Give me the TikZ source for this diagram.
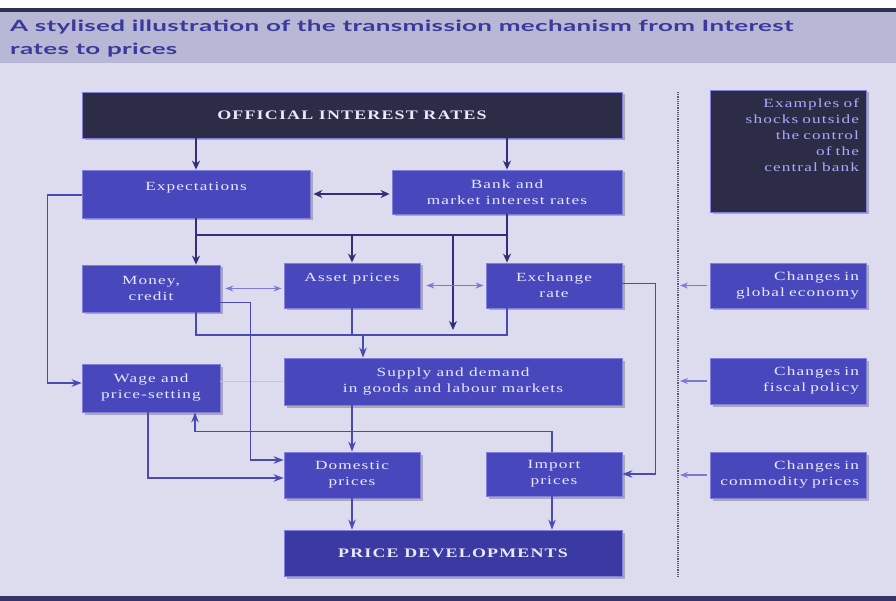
\documentclass[tikz,border=0pt]{standalone}
\usepackage{fontspec}
\setmainfont{Liberation Serif}[FakeStretch=1.38,LetterSpace=9]
\newfontfamily\titlefont{Lato}[FakeStretch=1.68,LetterSpace=2]
\usetikzlibrary{arrows.meta,shadows}

\definecolor{pagebg}{HTML}{DCDCEE}
\definecolor{bandbg}{HTML}{B8B8D6}
\definecolor{rulecol}{HTML}{2E2E50}
\definecolor{titlecol}{HTML}{3A3A9C}
\definecolor{boxblue}{HTML}{4848BC}
\definecolor{boxdark}{HTML}{2C2C46}
\definecolor{boxdeep}{HTML}{3A3AA2}
\definecolor{boxedge}{HTML}{8080DC}
\definecolor{boxtext}{HTML}{E8E8FF}
\definecolor{shocktext}{HTML}{A8AAFF}
\definecolor{arrdark}{HTML}{30307A}
\definecolor{arrmid}{HTML}{4A4AB4}
\definecolor{arrlight}{HTML}{7A7AD6}

\begin{document}
\begin{tikzpicture}[
  x=1pt, y=-1pt,
  font=\fontsize{12.5}{16}\selectfont,
  box/.style={draw=boxedge, line width=0.8pt, fill=boxblue, text=boxtext, align=center,
    minimum width=136pt, minimum height=46pt, inner sep=2pt,
    drop shadow={shadow xshift=2.5pt, shadow yshift=-2.5pt, opacity=0.35, fill=black!70}},
  darkbox/.style={box, fill=boxdark, font=\fontsize{13}{16}\selectfont\bfseries},
  deepbox/.style={box, fill=boxdeep, font=\fontsize{13}{16}\selectfont\bfseries},
  shockbox/.style={box, minimum width=156pt, text width=142pt, align=right},
  darr/.style={-{Stealth[length=9pt,width=8pt]}, line width=2pt, draw=arrdark},
  dboth/.style={{Stealth[length=9pt,width=8pt]}-{Stealth[length=9pt,width=8pt]}, line width=2pt, draw=arrdark},
  link/.style={line width=1.4pt, draw=arrmid},
  larr/.style={-{Stealth[length=10pt,width=7.5pt]}, line width=1.3pt, draw=arrmid},
  lboth/.style={{Stealth[length=8pt,width=6pt]}-{Stealth[length=8pt,width=6pt]}, line width=1.2pt, draw=arrlight},
  sarr/.style={-{Stealth[length=8pt,width=6pt]}, line width=1.2pt, draw=arrlight},
  faint/.style={line width=1.2pt, draw=arrlight!45},
  dotline/.style={line width=1.6pt, draw=rulecol!80, dash pattern=on 1.2pt off 1pt}
]
% page, title band and rules
\useasboundingbox (0,0) rectangle (896,601);
\fill[white!94!pagebg] (0,0) rectangle (896,8);
\fill[pagebg] (0,8) rectangle (896,601);
\fill[bandbg] (0,12) rectangle (896,63);
\fill[rulecol] (0,8) rectangle (896,12);
\fill[rulecol!80!boxblue] (0,596) rectangle (896,601);
\node[anchor=north west, inner sep=0pt, align=left, text=titlecol,
  font=\titlefont\bfseries\fontsize{15.5}{23.5}\selectfont] (title) at (10,19.5)
  {A stylised illustration of the transmission mechanism from Interest\\rates to prices};

% transmission boxes
\node[darkbox, minimum width=540pt] (oir) at (352,115) {OFFICIAL INTEREST RATES};
\node[box, minimum width=228pt, minimum height=48pt] (expect) at (196,194) {Expectations\\\mbox{}};
\node[box, minimum width=230pt, minimum height=44pt] (bank) at (507,192) {Bank and\\market interest rates};
\node[box, minimum width=138pt, minimum height=47pt] (money) at (151,288.5) {Money,\\credit};
\node[box, minimum height=45pt] (asset) at (352,285.5) {Asset prices\\\mbox{}};
\node[box, minimum height=45pt] (exch) at (554,285.5) {Exchange\\rate};
\node[box, minimum width=338pt, minimum height=47pt] (supply) at (453,381.5) {Supply and demand\\in goods and labour markets};
\node[box, minimum width=138pt, minimum height=48pt] (wage) at (151,388) {Wage and\\price-setting};
\node[box] (dom) at (352,475) {Domestic\\prices};
\node[box, minimum height=44pt] (imp) at (554,474) {Import\\prices};
\node[deepbox, minimum width=338pt] (pd) at (453,553) {PRICE DEVELOPMENTS};

% shocks
\node[shockbox, fill=boxdark, text=shocktext, minimum height=122pt] (shocks) at (788,151)
  {Examples of\\shocks outside\\the control\\of the\\central bank\\\mbox{}\\\mbox{}};
\node[shockbox, minimum height=45pt] (global) at (788,285.5) {Changes in\\global economy};
\node[shockbox, minimum height=46pt] (fiscal) at (788,381) {Changes in\\fiscal policy};
\node[shockbox, minimum height=46pt] (commod) at (788,475) {Changes in\\commodity prices};

\coordinate (row) at (0,235);
\coordinate (coll) at (0,335);
\coordinate (feed) at (363,335);
\coordinate (dtop) at (678,92);
\coordinate (dbot) at (678,578);

% top of the chain
\draw[darr] (expect.north |- oir.south) -- (expect.north);
\draw[darr] (bank.north |- oir.south) -- (bank.north);
\draw[dboth, shorten <=3pt, shorten >=2pt] (expect.east) -- (expect.east -| bank.west);
\draw[link, draw=arrdark] (expect.south |- row) -- (bank.south |- row);
\draw[darr] (expect.south) -- (expect.south |- money.north);
\draw[darr] (bank.south) -- (bank.south |- exch.north);
\draw[darr] (asset.north |- row) -- (asset.north);
\draw[darr] (supply.north |- row) -- ([yshift=5pt]supply.north |- coll);
\draw[lboth, shorten <=5pt, shorten >=2pt] (money.east) -- (money.east -| asset.west);
\draw[lboth, shorten <=6pt, shorten >=2pt] (asset.east) -- (asset.east -| exch.west);

% into supply and demand
\draw[link] (expect.south |- money.south) -- (expect.south |- coll) -- (bank.south |- coll) -- (bank.south |- exch.south);
\draw[link] (asset.south) -- (asset.south |- coll);
\draw[larr] (feed) -- (feed |- supply.north);
\draw[faint] (supply.west) -- (supply.west -| wage.east);

% towards prices
\draw[larr] ([yshift=-1pt]expect.west) -- ++(-34,0) |- ([yshift=5pt]wage.west);
\draw[larr] ([yshift=-14pt]money.east) -- ++(30,0) |- ([yshift=15pt]dom.west);
\draw[larr] ([xshift=-3pt]wage.south) |- ([yshift=-3pt]dom.west);
\draw[larr] (supply.south -| dom.north) -- (dom.north);
\draw[larr] ([xshift=-2pt]imp.north) -- ++(0,-20) -| ([xshift=44pt]wage.south);
\draw[larr] ([yshift=2pt]exch.east) -- ++(33,0) |- (imp.east);
\draw[larr] (dom.south) -- (dom.south |- pd.north);
\draw[larr] ([xshift=-2pt]imp.south) -- ([xshift=-2pt]imp.south |- pd.north);

% outside shocks
\draw[dotline] (dtop) -- (dbot);
\draw[sarr, shorten <=3pt, shorten >=2pt] (global.west) -- (global.west -| dtop);
\draw[sarr, shorten <=3pt, shorten >=2pt] (fiscal.west) -- (fiscal.west -| dtop);
\draw[sarr, shorten <=3pt, shorten >=2pt] (commod.west) -- (commod.west -| dtop);
\end{tikzpicture}
\end{document}
